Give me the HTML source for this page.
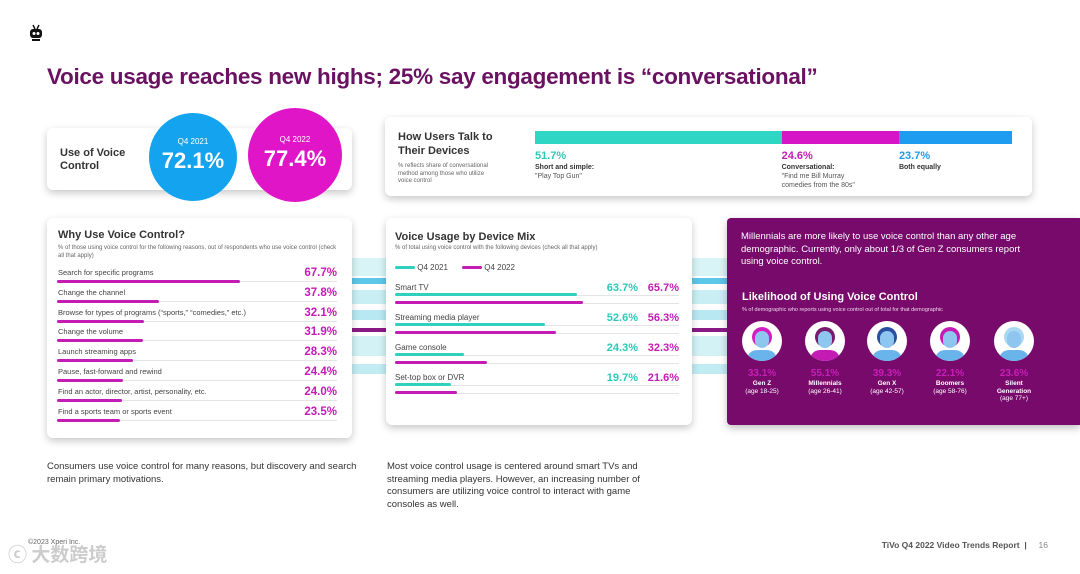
<!DOCTYPE html>
<html><head><meta charset="utf-8">
<style>
*{margin:0;padding:0;box-sizing:border-box}
body{width:1080px;height:574px;background:#fff;font-family:"Liberation Sans","Noto Sans CJK SC",sans-serif;position:relative;overflow:hidden;color:#333}
.abs{position:absolute}
.card{position:absolute;background:#fff;border-radius:6px;box-shadow:0 3px 8px rgba(0,0,0,.22)}
.stripe{position:absolute;height:10px}
</style></head><body>
<div class="abs" style="left:28px;top:24px;width:16px;height:18px">
<svg width="16" height="18"><line x1="5" y1="1" x2="7" y2="5" stroke="#111" stroke-width="1.5"/><line x1="11" y1="1" x2="9" y2="5" stroke="#111" stroke-width="1.5"/><rect x="2" y="5" width="12" height="9" rx="3" fill="#111"/><circle cx="6" cy="9.5" r="1.5" fill="#fff"/><circle cx="10" cy="9.5" r="1.5" fill="#fff"/><rect x="4" y="15" width="8" height="2" fill="#111"/></svg></div>
<div class="abs" style="left:47px;top:64px;font-size:22.5px;font-weight:bold;color:#6a1162;white-space:nowrap;letter-spacing:-0.3px">Voice usage reaches new highs; 25% say engagement is “conversational”</div>

<div>
<div class="stripe" style="left:340px;top:258px;width:400px;height:18px;background:#d8f4f6"></div>
<div class="stripe" style="left:340px;top:278px;width:400px;height:6px;background:#5cc7e9"></div>
<div class="stripe" style="left:340px;top:290px;width:400px;height:14px;background:#c9eff4"></div>
<div class="stripe" style="left:340px;top:310px;width:400px;height:10px;background:#b8e9f3"></div>
<div class="stripe" style="left:340px;top:328px;width:400px;height:4px;background:#8a1a86"></div>
<div class="stripe" style="left:340px;top:336px;width:400px;height:20px;background:#d2f2f6"></div>
<div class="stripe" style="left:340px;top:364px;width:400px;height:10px;background:#c2ecf4"></div>
</div>

<div class="card" style="left:47px;top:128px;width:305px;height:62px"></div>
<div class="abs" style="left:60px;top:147px;font-size:11px;font-weight:bold;color:#333;line-height:13px">Use of Voice<br>Control</div>
<div class="abs" style="left:149px;top:113px;width:88px;height:88px;border-radius:50%;background:#14a3ee;color:#fff;text-align:center">
<div style="font-size:8px;margin-top:24px">Q4 2021</div><div style="font-size:22px;font-weight:bold;margin-top:2px">72.1%</div></div>
<div class="abs" style="left:248px;top:108px;width:94px;height:94px;border-radius:50%;background:#e015c8;color:#fff;text-align:center">
<div style="font-size:8px;margin-top:27px">Q4 2022</div><div style="font-size:22px;font-weight:bold;margin-top:2px">77.4%</div></div>

<div class="card" style="left:385px;top:117px;width:647px;height:79px"></div>
<div class="abs" style="left:398px;top:130px;font-size:11px;font-weight:bold;color:#333;line-height:14px">How Users Talk to<br>Their Devices</div>
<div class="abs" style="left:398px;top:163px;font-size:6px;color:#666;line-height:7.5px">% reflects share of conversational<br>method among those who utilize<br>voice control</div>
<div id="talk"></div>

<div class="card" style="left:47px;top:218px;width:305px;height:220px"></div>
<div class="abs" style="left:58px;top:229px;font-size:11px;font-weight:bold;color:#333">Why Use Voice Control?</div>
<div class="abs" style="left:58px;top:245px;width:285px;font-size:6px;color:#666;line-height:7.5px">% of those using voice control for the following reasons, out of respondents who use voice control (check all that apply)</div>
<div id="why"></div>

<div class="card" style="left:386px;top:218px;width:306px;height:207px"></div>
<div class="abs" style="left:395px;top:231px;font-size:11px;font-weight:bold;color:#333">Voice Usage by Device Mix</div>
<div class="abs" style="left:395px;top:245px;font-size:6px;color:#666">% of total using voice control with the following devices (check all that apply)</div>
<div class="abs" style="left:395px;top:263px;font-size:8px;color:#444;white-space:nowrap"><span style="display:inline-block;width:20px;height:3px;background:#2fd0c0;border-radius:2px;vertical-align:middle"></span> Q4 2021</div>
<div class="abs" style="left:462px;top:263px;font-size:8px;color:#444;white-space:nowrap"><span style="display:inline-block;width:20px;height:3px;background:#c41bb5;border-radius:2px;vertical-align:middle"></span> Q4 2022</div>
<div id="dev"></div>

<div class="abs" style="left:727px;top:218px;width:353px;height:207px;background:#770a6a;border-radius:4px 0 0 4px;box-shadow:0 3px 8px rgba(0,0,0,.25)"></div>
<div class="abs" style="left:741px;top:231px;width:288px;font-size:9.5px;color:#fff;line-height:12.5px">Millennials are more likely to use voice control than any other age demographic. Currently, only about 1/3 of Gen Z consumers report using voice control.</div>
<div class="abs" style="left:742px;top:291px;font-size:11px;font-weight:bold;color:#fff">Likelihood of Using Voice Control</div>
<div class="abs" style="left:742px;top:307px;font-size:5.5px;color:#f0d8ee">% of demographic who reports using voice control out of total for that demographic</div>
<div id="gen"></div>

<div class="abs" style="left:47px;top:461px;width:312px;font-size:9.5px;color:#333;line-height:12.5px">Consumers use voice control for many reasons, but discovery and search remain primary motivations.</div>
<div class="abs" style="left:387px;top:461px;width:282px;font-size:9.5px;color:#333;line-height:12.5px">Most voice control usage is centered around smart TVs and streaming media players. However, an increasing number of consumers are utilizing voice control to interact with game consoles as well.</div>
<div class="abs" style="left:28px;top:539px;font-size:7px;color:#666">©2023 Xperi Inc.</div>
<div class="abs" style="left:8px;top:540px;font-size:19px;color:rgba(170,170,170,.6);font-weight:bold;font-family:'Noto Sans CJK SC',sans-serif">ⓒ 大数跨境</div>
<div class="abs" style="right:32px;top:540px;font-size:8.5px;color:#555;font-weight:bold;white-space:nowrap">TiVo Q4 2022 Video Trends Report &nbsp;| &nbsp;&nbsp;&nbsp;&nbsp;<span style="font-weight:normal;color:#888">16</span></div>

<script>
const talkLabels=["Short and simple:","Conversational:","Both equally"];
const talkSub=["\"Play Top Gun\"","\"Find me Bill Murray\ncomedies from the 80s\"",""];
const talkValues=[51.7,24.6,23.7];
const talkColors=["#2fd6c3","#d615c6","#1e9cf0"];
const valColors=["#2fc8b8","#c41bb5","#1e9cf0"];

const whyCats=["Search for specific programs","Change the channel","Browse for types of programs (“sports,” “comedies,” etc.)","Change the volume","Launch streaming apps","Pause, fast-forward and rewind","Find an actor, director, artist, personality, etc.","Find a sports team or sports event"];
const whyValues=[67.7,37.8,32.1,31.9,28.3,24.4,24.0,23.5];

const devCats=["Smart TV","Streaming media player","Game console","Set-top box or DVR"];
const dev2021=[63.7,52.6,24.3,19.7];
const dev2022=[65.7,56.3,32.3,21.6];

const genNames=["Gen Z","Millennials","Gen X","Boomers","Silent\nGeneration"];
const genAges=["(age 18-25)","(age 26-41)","(age 42-57)","(age 58-76)","(age 77+)"];
const genValues=[33.1,55.1,39.3,22.1,23.6];

function mk(parent,css,text){const d=document.createElement('div');d.style.cssText='position:absolute;'+css;if(text!==undefined)d.textContent=text;parent.appendChild(d);return d;}

(function(){const p=document.getElementById('talk');const x0=535,w=477,tot=talkValues.reduce((a,b)=>a+b,0);let x=x0;
talkValues.forEach((v,i)=>{const sw=v/tot*w;
const s=mk(p,`left:${x}px;top:131px;width:${sw}px;height:13px;background:${talkColors[i]}`);


const t=mk(p,`left:${x}px;top:150px;font-size:11px;color:${valColors[i]};font-weight:bold`,v.toFixed(1)+'%');


const l=mk(p,`left:${x}px;top:164px;font-size:7px;color:#333;font-weight:bold`,talkLabels[i]);


if(talkSub[i]){const q=mk(p,`left:${x}px;top:172px;font-size:7px;color:#555;white-space:pre;line-height:9px`,talkSub[i]);

}
x+=sw;});})();

(function(){const p=document.getElementById('why');const x0=57,sc=2.7,y0=268,dy=19.8;
whyCats.forEach((c,i)=>{const y=y0+i*dy;
const l=mk(p,`left:58px;top:${y}px;font-size:7.5px;color:#444;white-space:nowrap`,c);


const tr=mk(p,`left:${x0}px;top:${y+13}px;width:280px;height:1px;background:#e4e4e4`);


const b=mk(p,`left:${x0}px;top:${y+12}px;width:${whyValues[i]*sc}px;height:3px;border-radius:2px;background:#c41bb5`);


const v=mk(p,`right:${1080-337}px;top:${y-1}px;font-size:11.5px;font-weight:bold;color:#c41bb5`,whyValues[i].toFixed(1)+'%');

});})();

(function(){const p=document.getElementById('dev');const x0=395,sc=2.86,y0=283,dy=30;
devCats.forEach((c,i)=>{const y=y0+i*dy;
const l=mk(p,`left:395px;top:${y}px;font-size:8px;color:#444;white-space:nowrap`,c);


[0,1].forEach(k=>{const tr=mk(p,`left:${x0}px;top:${y+12+k*8}px;width:284px;height:1px;background:#e4e4e4`);

});
const b1=mk(p,`left:${x0}px;top:${y+10}px;width:${dev2021[i]*sc}px;height:3px;border-radius:2px;background:#2fd0c0`);


const b2=mk(p,`left:${x0}px;top:${y+18}px;width:${dev2022[i]*sc}px;height:3px;border-radius:2px;background:#c41bb5`);


const v1=mk(p,`right:${1080-638}px;top:${y-1}px;font-size:11px;font-weight:bold;color:#2fc8b8`,dev2021[i].toFixed(1)+'%');


const v2=mk(p,`right:${1080-679}px;top:${y-1}px;font-size:11px;font-weight:bold;color:#c41bb5`,dev2022[i].toFixed(1)+'%');

});})();

(function(){const p=document.getElementById('gen');const cx=[762,825,887,950,1014];
genNames.forEach((n,i)=>{const x=cx[i];
const c=mk(p,`left:${x-20}px;top:${321}px;width:40px;height:40px;border-radius:50%;background:#fff;overflow:hidden`);


const hair=['#d31fc0','#7a1a6e','#2a4fa0','#c41bb5','#a9d8f0'][i];
mk(c,`left:10px;top:6px;width:20px;height:20px;border-radius:50%;background:${hair}`);
mk(c,`left:13px;top:10px;width:14px;height:17px;border-radius:7px;background:#8fc6f0`);
mk(c,`left:5px;top:29px;width:30px;height:14px;border-radius:10px 10px 0 0;background:${i==1?'#c41bb5':'#6ab4ec'}`);
const v=mk(p,`left:${x-30}px;width:60px;text-align:center;top:368px;font-size:10px;font-weight:bold;color:#c81fb8`,genValues[i].toFixed(1)+'%');


const nm=mk(p,`left:${x-30}px;width:60px;text-align:center;top:380px;font-size:6.5px;font-weight:bold;color:#fff;white-space:pre;line-height:7.5px`,n);


const a=mk(p,`left:${x-30}px;width:60px;text-align:center;top:${i==4?395:388}px;font-size:6.5px;color:#fff`,genAges[i]);

});})();
</script>
</body></html>
